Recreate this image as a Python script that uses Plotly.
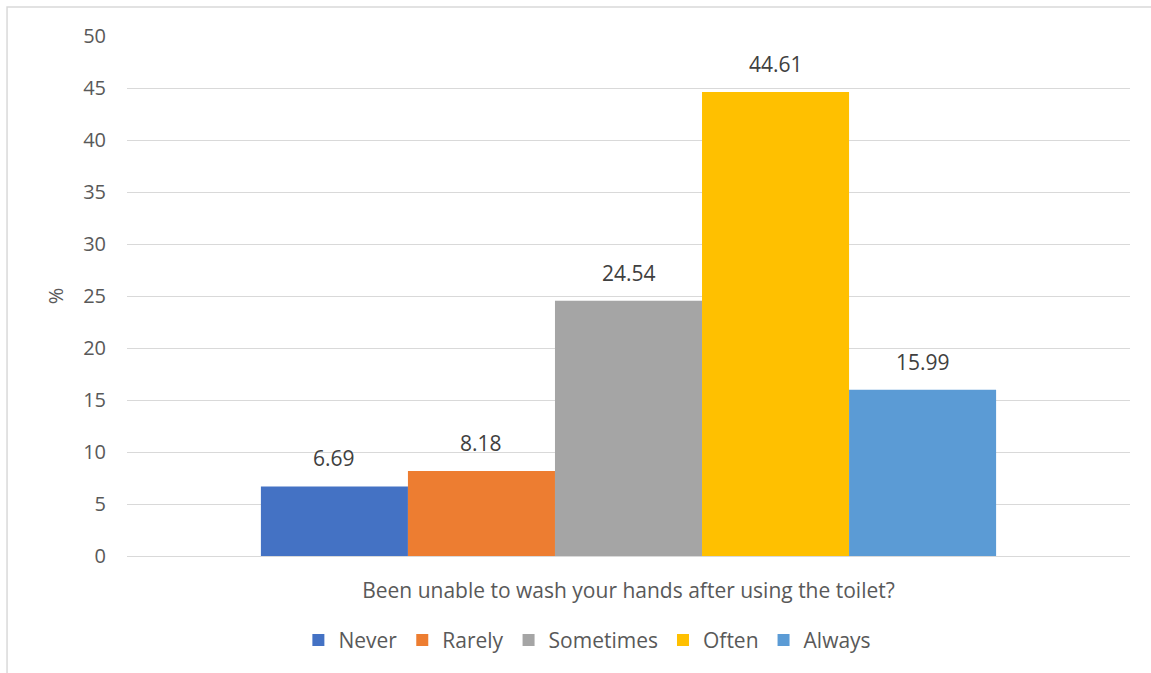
import plotly.graph_objects as go

# Survey responses for a single question, percentage per answer
category = ["Been unable to wash your hands after using the toilet?"]
series_names = ["Never", "Rarely", "Sometimes", "Often", "Always"]
series_values = [6.69, 8.18, 24.54, 44.61, 15.99]
series_colors = ["#4472C4", "#ED7D31", "#A5A5A5", "#FFC000", "#5B9BD5"]
y_ticks = [0, 5, 10, 15, 20, 25, 30, 35, 40, 45, 50]

FONT = "Open Sans"
TEXT = "#595959"
LABEL = "#404040"

W, H = 1151, 673
M_L, M_R, M_T, M_B = 127, 21, 36, 117
BARGAP = 0.267

fig = go.Figure()
for name, val, col in zip(series_names, series_values, series_colors):
    fig.add_trace(go.Bar(
        name=name,
        x=category,
        y=[val],
        marker=dict(color=col, line=dict(width=0)),
    ))

# Value labels above each bar, offset horizontally by the width of one bar slot
plot_w = W - M_L - M_R
slot_px = plot_w * (1 - BARGAP) / len(series_names)
mid = (len(series_names) - 1) / 2
annotations = []
for i, val in enumerate(series_values):
    annotations.append(dict(
        x=category[0], y=val, xref="x", yref="y",
        text=f"{val:.2f}", showarrow=False,
        xanchor="center", yanchor="bottom",
        xshift=(i - mid) * slot_px, yshift=12,
        font=dict(family=FONT, size=21, color=LABEL),
    ))

fig.update_layout(
    width=W,
    height=H,
    margin=dict(l=M_L, r=M_R, t=M_T, b=M_B),
    paper_bgcolor="white",
    plot_bgcolor="white",
    barmode="group",
    bargap=BARGAP,
    bargroupgap=0,
    font=dict(family=FONT, size=20, color=TEXT),
    showlegend=True,
    legend=dict(
        orientation="h",
        x=0.459, xanchor="center",
        y=-0.162, yanchor="middle",
        font=dict(family=FONT, size=21, color=TEXT),
        itemwidth=30,
        tracegroupgap=0,
    ),
    xaxis=dict(
        showgrid=False,
        showline=False,
        zeroline=False,
        ticks="",
        ticklabelstandoff=20,
        tickfont=dict(family=FONT, size=21, color=TEXT),
    ),
    yaxis=dict(
        range=[0, 50],
        tickvals=y_ticks,
        showgrid=True,
        gridcolor="#d9d9d9",
        gridwidth=1,
        zeroline=True,
        zerolinecolor="#d9d9d9",
        zerolinewidth=1,
        showline=False,
        ticks="",
        ticklabelstandoff=20,
        tickfont=dict(family=FONT, size=20, color=TEXT),
        title=dict(text="%", font=dict(family=FONT, size=20, color=TEXT), standoff=14),
    ),
    annotations=annotations,
    shapes=[dict(
        type="rect", xref="paper", yref="paper",
        x0=-0.1196, x1=1.03, y0=-0.24, y1=1.0558,
        line=dict(color="#d9d9d9", width=1.5),
        fillcolor="rgba(0,0,0,0)", layer="below",
    )],
)

fig.write_html("out.html")
